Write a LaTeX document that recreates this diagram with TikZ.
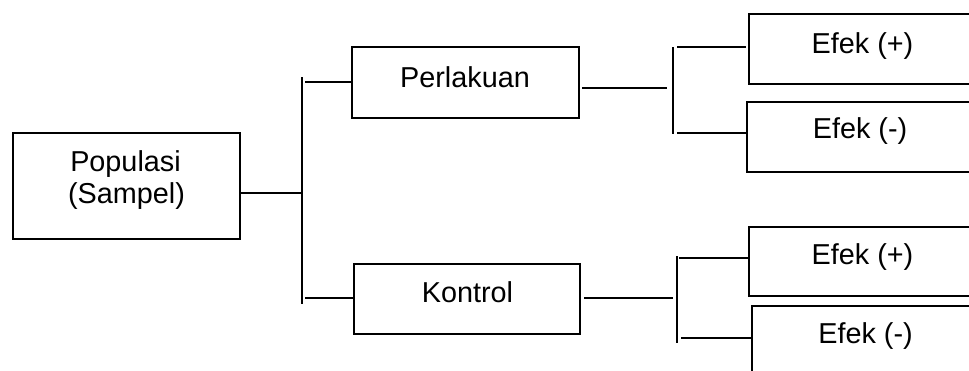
\documentclass[tikz,border=0pt]{standalone}
\usepackage{fontspec}
\setmainfont{Liberation Sans}
\begin{document}
\begin{tikzpicture}[x=1pt,y=-1pt,
  box/.style={draw, line width=1.1pt, inner sep=0pt, outer sep=0pt, anchor=north west},
  lbl/.style={inner sep=0pt, anchor=base, font=\fontsize{28.8}{34}\selectfont},
  conn/.style={line width=1.1pt},
  bar/.style={line width=1.5pt}]
\useasboundingbox (0,0) rectangle (969,370);
\clip (0,0) rectangle (969,370);
% boxes
\node[box, minimum width=227pt, minimum height=106pt] (pop) at (13,133) {};
\node[box, minimum width=227pt, minimum height=71pt] (perl) at (352,47) {};
\node[box, minimum width=226pt, minimum height=70pt] (kon) at (354,264) {};
\node[box, minimum width=240pt, minimum height=70pt] (e1) at (749,14) {};
\node[box, minimum width=240pt, minimum height=70pt] (e2) at (747,102) {};
\node[box, minimum width=240pt, minimum height=69pt] (e3) at (749,227) {};
\node[box, minimum width=240pt, minimum height=80pt] (e4) at (752,306) {};
% labels
\node[lbl] (tpop1) at (125.5,171) {Populasi};
\node[lbl] (tpop2) at (126.5,203) {(Sampel)};
\node[lbl] (tperl) at (465,87) {Perlakuan};
\node[lbl] (tkon) at (467.5,302) {Kontrol};
\node[lbl] (te1) at (862.5,53) {Efek (+)};
\node[lbl] (te2) at (860,138) {Efek (-)};
\node[lbl] (te3) at (862.5,264) {Efek (+)};
\node[lbl] (te4) at (865.5,343) {Efek (-)};
% bracket 1
\coordinate (b1t) at (302,77);
\coordinate (b1m) at (302,193);
\coordinate (b1b) at (302,304);
\coordinate (b1u) at (305,82);
\coordinate (b1d) at (305,298);
\draw[bar] (b1t) -- (b1b);
\draw[conn] (pop.east |- b1m) -- (b1m);
\draw[conn] (b1u) -- (perl.west |- b1u);
\draw[conn] (b1d) -- (kon.west |- b1d);
% bracket 2
\coordinate (b2t) at (673,47);
\coordinate (b2b) at (673,134);
\coordinate (b2m) at (667,88);
\coordinate (b2u) at (677,47);
\coordinate (b2d) at (677,133);
\draw[bar] (b2t) -- (b2b);
\draw[conn, shorten <=3pt] (perl.east |- b2m) -- (b2m);
\draw[conn, shorten >=3pt] (b2u) -- (e1.west |- b2u);
\draw[conn, shorten >=1pt] (b2d) -- (e2.west |- b2d);
% bracket 3
\coordinate (b3t) at (677,256);
\coordinate (b3b) at (677,343);
\coordinate (b3m) at (673,298);
\coordinate (b3u) at (679,258);
\coordinate (b3d) at (681,338);
\draw[bar] (b3t) -- (b3b);
\draw[conn, shorten <=4pt] (kon.east |- b3m) -- (b3m);
\draw[conn, shorten >=1pt] (b3u) -- (e3.west |- b3u);
\draw[conn, shorten >=1pt] (b3d) -- (e4.west |- b3d);
\end{tikzpicture}
\end{document}
